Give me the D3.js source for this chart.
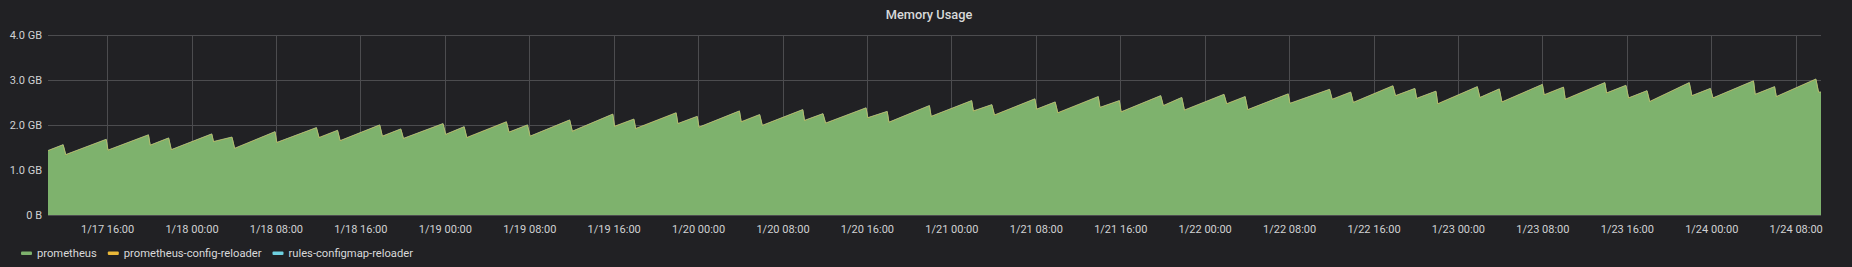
<!DOCTYPE html>
<html>
  <head>
    <title>Memory Usage</title>
    <script src="https://d3js.org/d3.v7.min.js"></script>
    <style>
      body { margin: 0; background: #212124; overflow: hidden; }
      text { font-family: Roboto, "Helvetica Neue", Arial, sans-serif; }
    </style>
  </head>
  <body>
    <script>
      // vertices of the sawtooth (UTC, year assumed)
      var times = [
        "01-17 10:24","01-17 11:50","01-17 12:05","01-17 15:55","01-17 16:05","01-17 19:55","01-17 20:05","01-17 21:50","01-17 22:05",
        "01-18 01:55","01-18 02:05","01-18 03:50","01-18 04:05","01-18 07:55","01-18 08:05","01-18 11:50","01-18 12:05","01-18 13:50","01-18 14:05","01-18 17:50","01-18 18:05","01-18 19:50","01-18 20:05","01-18 23:50",
        "01-19 00:05","01-19 01:50","01-19 02:05","01-19 05:50","01-19 06:05","01-19 07:50","01-19 08:05","01-19 11:50","01-19 12:05","01-19 15:55","01-19 16:05","01-19 17:55","01-19 18:05","01-19 21:55","01-19 22:05","01-19 23:55",
        "01-20 00:05","01-20 03:55","01-20 04:05","01-20 05:50","01-20 06:05","01-20 09:55","01-20 10:05","01-20 11:50","01-20 12:05","01-20 15:55","01-20 16:05","01-20 17:55","01-20 18:05","01-20 21:55","01-20 22:05",
        "01-21 01:55","01-21 02:05","01-21 03:50","01-21 04:05","01-21 07:55","01-21 08:05","01-21 09:50","01-21 10:05","01-21 13:55","01-21 14:05","01-21 15:55","01-21 16:05","01-21 19:50","01-21 20:05","01-21 21:50","01-21 22:05",
        "01-22 01:50","01-22 02:05","01-22 03:50","01-22 04:05","01-22 07:55","01-22 08:05","01-22 11:50","01-22 12:05","01-22 13:50","01-22 14:05","01-22 17:50","01-22 18:05","01-22 19:55","01-22 20:05","01-22 21:55","01-22 22:05",
        "01-23 01:50","01-23 02:05","01-23 03:55","01-23 04:10","01-23 08:00","01-23 08:10","01-23 10:00","01-23 10:10","01-23 13:55","01-23 14:05","01-23 15:55","01-23 16:10","01-23 17:55","01-23 18:10","01-23 21:55","01-23 22:10","01-23 23:55",
        "01-24 00:10","01-24 04:00","01-24 04:10","01-24 06:00","01-24 06:10","01-24 09:55","01-24 10:10","01-24 10:24"
      ];

      var prometheusGB = [
        1.42,1.55,1.33,1.67,1.43,1.77,1.54,1.70,1.44,
        1.79,1.62,1.72,1.47,1.84,1.60,1.93,1.71,1.87,1.64,1.99,1.74,1.90,1.69,2.02,
        1.78,1.95,1.71,2.06,1.83,1.99,1.74,2.10,1.85,2.23,1.96,2.12,1.91,2.26,2.02,2.18,
        1.94,2.30,2.06,2.22,1.98,2.33,2.09,2.24,2.03,2.37,2.15,2.29,2.05,2.42,2.18,
        2.53,2.30,2.44,2.21,2.57,2.34,2.50,2.26,2.62,2.38,2.53,2.28,2.64,2.42,2.60,2.32,
        2.67,2.46,2.62,2.33,2.68,2.47,2.78,2.56,2.72,2.49,2.86,2.64,2.80,2.58,2.74,2.46,
        2.84,2.60,2.79,2.50,2.89,2.66,2.83,2.56,2.93,2.70,2.87,2.59,2.75,2.51,2.93,2.64,2.80,
        2.59,2.97,2.67,2.84,2.62,3.01,2.72,2.72
      ];

      // the two reloader containers stay flat at a few MB
      var configReloaderGB = [0.010];
      var rulesReloaderGB = [0.004];

      var seriesNames = ["prometheus", "prometheus-config-reloader", "rules-configmap-reloader"];
      var yTicks = [0, 1, 2, 3, 4];
      var timeRange = ["01-17 10:24", "01-24 10:24"];

      var colors = ["#7eb26d", "#eab839", "#6ed0e0"];

      var width = 1852;
      var height = 267;
      var margin = {top: 35, left: 48, right: 31, bottom: 52};

      var parse = function(s) { return d3.utcParse("%Y-%m-%d %H:%M")("2020-" + s); };

      var points = times.map(function(t, i) {
        var base = prometheusGB[i];
        return {
          t: parse(t),
          y0: base,
          y1: base + configReloaderGB[0],
          y2: base + configReloaderGB[0] + rulesReloaderGB[0]
        };
      });

      var svg = d3.select("body")
        .append("svg")
        .attr("width", width)
        .attr("height", height);

      var xScale = d3.scaleUtc()
        .domain(timeRange.map(parse))
        .range([margin.left, width - margin.right]);

      var yScale = d3.scaleLinear()
        .domain([0, 4])
        .range([height - margin.bottom, margin.top]);

      var xTicks = xScale.ticks(d3.utcHour.every(8));

      // grid
      svg.append("g")
        .selectAll("line")
        .data(yTicks)
        .enter()
        .append("line")
          .attr("x1", margin.left)
          .attr("x2", width - margin.right)
          .attr("y1", function(d) { return Math.round(yScale(d)) + 0.5; })
          .attr("y2", function(d) { return Math.round(yScale(d)) + 0.5; })
          .attr("stroke", "#4c4c4f");

      svg.append("g")
        .selectAll("line")
        .data(xTicks)
        .enter()
        .append("line")
          .attr("x1", function(d) { return Math.round(xScale(d)) + 0.5; })
          .attr("x2", function(d) { return Math.round(xScale(d)) + 0.5; })
          .attr("y1", margin.top)
          .attr("y2", height - margin.bottom)
          .attr("stroke", "#4c4c4f");

      // stacked series
      var area = function(lo, hi) {
        return d3.area()
          .x(function(d) { return xScale(d.t); })
          .y0(function(d) { return yScale(lo(d)); })
          .y1(function(d) { return yScale(hi(d)); });
      };

      svg.append("path")
        .datum(points)
        .attr("fill", colors[0])
        .attr("d", area(function() { return 0; }, function(d) { return d.y0; }));

      svg.append("path")
        .datum(points)
        .attr("fill", colors[1])
        .attr("d", area(function(d) { return d.y0; }, function(d) { return d.y1; }));

      svg.append("path")
        .datum(points)
        .attr("fill", colors[2])
        .attr("d", area(function(d) { return d.y1; }, function(d) { return d.y2; }));

      var line = function(acc) {
        return d3.line()
          .x(function(d) { return xScale(d.t); })
          .y(function(d) { return yScale(acc(d)); });
      };

      svg.append("path")
        .datum(points)
        .attr("fill", "none")
        .attr("stroke", colors[0])
        .attr("stroke-width", 1)
        .attr("d", line(function(d) { return d.y0; }));

      svg.append("path")
        .datum(points)
        .attr("fill", "none")
        .attr("stroke", colors[2])
        .attr("stroke-opacity", 0.5)
        .attr("stroke-width", 1)
        .attr("d", line(function(d) { return d.y2; }));

      svg.append("path")
        .datum(points)
        .attr("fill", "none")
        .attr("stroke", colors[1])
        .attr("stroke-opacity", 0.55)
        .attr("stroke-width", 1)
        .attr("d", line(function(d) { return d.y1; }));

      // axes
      var xAxis = svg.append("g")
        .attr("transform", `translate(0,${height - margin.bottom})`)
        .call(d3.axisBottom(xScale)
          .tickValues(xTicks)
          .tickSize(0)
          .tickPadding(10)
          .tickFormat(d3.utcFormat("%-m/%d %H:%M")));
      xAxis.select(".domain").remove();
      xAxis.selectAll("text")
        .attr("fill", "#d0d1d3")
        .style("font-size", "11px");

      var yAxis = svg.append("g")
        .attr("transform", `translate(${margin.left},0)`)
        .call(d3.axisLeft(yScale)
          .tickValues(yTicks)
          .tickSize(0)
          .tickPadding(6)
          .tickFormat(function(d) { return d === 0 ? "0 B" : d.toFixed(1) + " GB"; }));
      yAxis.select(".domain").remove();
      yAxis.selectAll("text")
        .attr("fill", "#d0d1d3")
        .style("font-size", "11px");

      // title
      svg.append("text")
        .attr("x", width / 2 + 3)
        .attr("y", 15)
        .attr("dy", "0.35em")
        .attr("text-anchor", "middle")
        .attr("fill", "#d8d9da")
        .style("font-size", "12.8px")
        .style("font-weight", 500)
        .text("Memory Usage");

      // legend
      var legend = svg.append("g");
      var lx = 21;
      seriesNames.forEach(function(name, i) {
        legend.append("rect")
          .attr("x", lx)
          .attr("y", 251.5)
          .attr("width", 11)
          .attr("height", 3.5)
          .attr("rx", 1)
          .attr("fill", colors[i]);
        var t = legend.append("text")
          .attr("x", lx + 16)
          .attr("y", 253.5)
          .attr("dy", "0.35em")
          .attr("fill", "#d8d9da")
          .style("font-size", "11.2px")
          .text(name);
        lx += 16 + t.node().getComputedTextLength() + 11;
      });
    </script>
  </body>
</html>
